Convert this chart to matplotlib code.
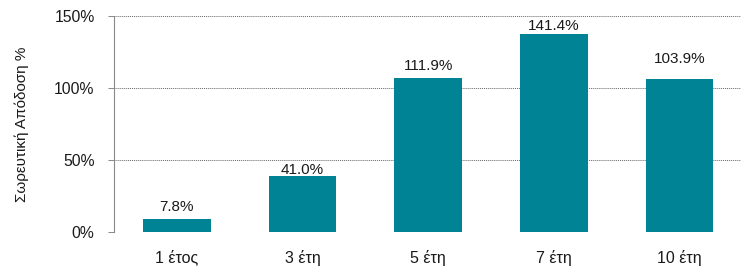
from matplotlib import pyplot as plt
import numpy as np

plt.rcParams['font.family'] = ['Liberation Sans', 'DejaVu Sans']

# bar heights as drawn in the picture, and the printed labels
periods     = ['1 έτος', '3 έτη', '5 έτη', '7 έτη', '10 έτη']
heights     = [8.6, 39.0, 107.0, 137.4, 106.3]
bar_labels  = ['7.8%', '41.0%', '111.9%', '141.4%', '103.9%']
yticks      = [0, 50, 100, 150]

#--------------------------------------------------------------------------------------------------
def plot_returns(output_fname='out.png'):
    fig = plt.figure(figsize=(7.41, 2.68), dpi=100)
    ax = fig.add_axes([0.1538, 0.1354, 0.848, 0.805])

    x = np.arange(len(periods))
    bars = ax.bar(x, heights, width=0.54, color='#008394', zorder=3)

    # label gaps above each bar top (points)
    gaps = [9.0, 4.2, 8.2, 5.6, 14.0]
    for b, lab, g in zip(bars, bar_labels, gaps):
        ax.annotate(lab, (b.get_x() + b.get_width()/2, b.get_height()),
                    xytext=(0, g), textcoords='offset points',
                    ha='center', va='center', fontsize=11, color='#1a1a1a')

    ax.set_xlim(-0.5, len(periods) - 0.5)
    ax.set_ylim(0, 150)
    ax.set_yticks(yticks)
    ax.set_yticklabels([f'{v}%' for v in yticks])
    ax.set_xticks(x)
    ax.set_xticklabels(periods)

    ax.grid(axis='y', linestyle=(0, (1, 1)), color='#666666', linewidth=0.7, zorder=0)
    for side in ['top', 'right', 'bottom']:
        ax.spines[side].set_visible(False)
    ax.spines['left'].set_linestyle((0, (1, 1)))
    ax.spines['left'].set_color('#888888')
    ax.spines['left'].set_linewidth(0.8)

    ax.tick_params(axis='y', length=4, width=0.7, color='#888888', pad=10,
                   labelsize=11.3, labelcolor='#1a1a1a')
    ax.tick_params(axis='x', length=0, pad=13, labelsize=11.5, labelcolor='#1a1a1a')

    ax.set_ylabel('Σωρευτική Απόδοση %', fontsize=11, color='#1a1a1a', labelpad=18)

    fig.savefig(output_fname, dpi=100)
#--------------------------------------------------------------------------------------------------

if __name__ == '__main__':
    plot_returns()
